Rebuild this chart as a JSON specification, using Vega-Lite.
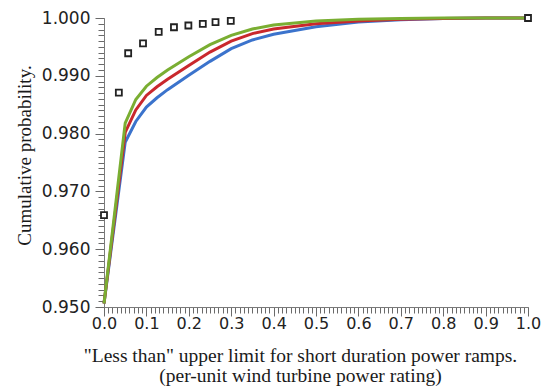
{
  "$schema": "https://vega.github.io/schema/vega-lite/v6.json",
  "width": 424,
  "height": 289,
  "autosize": "none",
  "padding": {"left": 104, "top": 18, "right": 16, "bottom": 85},
  "background": "white",
  "config": {"view": {"stroke": null}},
  "datasets": {
    "curves": [
      {"x": 0, "p": 0.9506, "s": "Series 1"}, {"x": 0.05, "p": 0.9785, "s": "Series 1"}, {"x": 0.075, "p": 0.9821, "s": "Series 1"}, {"x": 0.1, "p": 0.9846, "s": "Series 1"}, {"x": 0.125, "p": 0.9862, "s": "Series 1"}, {"x": 0.15, "p": 0.9876, "s": "Series 1"}, {"x": 0.2, "p": 0.9901, "s": "Series 1"}, {"x": 0.25, "p": 0.9925, "s": "Series 1"}, {"x": 0.3, "p": 0.9947, "s": "Series 1"}, {"x": 0.35, "p": 0.9962, "s": "Series 1"}, {"x": 0.4, "p": 0.9972, "s": "Series 1"}, {"x": 0.5, "p": 0.9985, "s": "Series 1"}, {"x": 0.6, "p": 0.9993, "s": "Series 1"}, {"x": 0.7, "p": 0.9997, "s": "Series 1"}, {"x": 0.8, "p": 0.9999, "s": "Series 1"}, {"x": 0.9, "p": 1.0, "s": "Series 1"}, {"x": 1.0, "p": 1.0, "s": "Series 1"},
      {"x": 0, "p": 0.9506, "s": "Series 2"}, {"x": 0.05, "p": 0.9802, "s": "Series 2"}, {"x": 0.075, "p": 0.9841, "s": "Series 2"}, {"x": 0.1, "p": 0.9866, "s": "Series 2"}, {"x": 0.125, "p": 0.9881, "s": "Series 2"}, {"x": 0.15, "p": 0.9894, "s": "Series 2"}, {"x": 0.2, "p": 0.9918, "s": "Series 2"}, {"x": 0.25, "p": 0.9941, "s": "Series 2"}, {"x": 0.3, "p": 0.996, "s": "Series 2"}, {"x": 0.35, "p": 0.9973, "s": "Series 2"}, {"x": 0.4, "p": 0.9981, "s": "Series 2"}, {"x": 0.5, "p": 0.999, "s": "Series 2"}, {"x": 0.6, "p": 0.9995, "s": "Series 2"}, {"x": 0.7, "p": 0.9998, "s": "Series 2"}, {"x": 0.8, "p": 0.9999, "s": "Series 2"}, {"x": 0.9, "p": 1.0, "s": "Series 2"}, {"x": 1.0, "p": 1.0, "s": "Series 2"},
      {"x": 0, "p": 0.9506, "s": "Series 3"}, {"x": 0.05, "p": 0.9818, "s": "Series 3"}, {"x": 0.075, "p": 0.9859, "s": "Series 3"}, {"x": 0.1, "p": 0.9882, "s": "Series 3"}, {"x": 0.125, "p": 0.9897, "s": "Series 3"}, {"x": 0.15, "p": 0.991, "s": "Series 3"}, {"x": 0.2, "p": 0.9933, "s": "Series 3"}, {"x": 0.25, "p": 0.9954, "s": "Series 3"}, {"x": 0.3, "p": 0.997, "s": "Series 3"}, {"x": 0.35, "p": 0.9981, "s": "Series 3"}, {"x": 0.4, "p": 0.9988, "s": "Series 3"}, {"x": 0.5, "p": 0.9995, "s": "Series 3"}, {"x": 0.6, "p": 0.9998, "s": "Series 3"}, {"x": 0.7, "p": 0.9999, "s": "Series 3"}, {"x": 0.8, "p": 1.0, "s": "Series 3"}, {"x": 0.9, "p": 1.0, "s": "Series 3"}, {"x": 1.0, "p": 1.0, "s": "Series 3"}
    ],
    "observed": [
      {"x": 0.0, "p": 0.9659}, {"x": 0.035, "p": 0.9871}, {"x": 0.057, "p": 0.9939}, {"x": 0.092, "p": 0.9956}, {"x": 0.129, "p": 0.9976}, {"x": 0.165, "p": 0.9984}, {"x": 0.199, "p": 0.9987}, {"x": 0.233, "p": 0.999}, {"x": 0.263, "p": 0.9993}, {"x": 0.299, "p": 0.9995}, {"x": 1.0, "p": 1.0}
    ]
  },
  "resolve": {"scale": {"x": "independent", "y": "independent"}, "axis": {"x": "independent", "y": "independent"}},
  "layer": [
    {
      "data": {"name": "curves"},
      "mark": {"type": "line", "strokeWidth": 3, "clip": false},
      "encoding": {
        "x": {
          "field": "x", "type": "quantitative",
          "scale": {"domain": [0, 1], "nice": false, "zero": false},
          "axis": {
            "orient": "bottom",
            "values": [0,0.01,0.02,0.03,0.04,0.05,0.06,0.07,0.08,0.09,0.1,0.11,0.12,0.13,0.14,0.15,0.16,0.17,0.18,0.19,0.2,0.21,0.22,0.23,0.24,0.25,0.26,0.27,0.28,0.29,0.3,0.31,0.32,0.33,0.34,0.35,0.36,0.37,0.38,0.39,0.4,0.41,0.42,0.43,0.44,0.45,0.46,0.47,0.48,0.49,0.5,0.51,0.52,0.53,0.54,0.55,0.56,0.57,0.58,0.59,0.6,0.61,0.62,0.63,0.64,0.65,0.66,0.67,0.68,0.69,0.7,0.71,0.72,0.73,0.74,0.75,0.76,0.77,0.78,0.79,0.8,0.81,0.82,0.83,0.84,0.85,0.86,0.87,0.88,0.89,0.9,0.91,0.92,0.93,0.94,0.95,0.96,0.97,0.98,0.99,1],
            "tickCount": 500, "labels": false, "title": null, "domain": false, "grid": false, "ticks": true,
            "tickColor": "#6a6a6a", "tickSize": 6, "tickWidth": 1, "tickOpacity": 1
          }
        },
        "y": {
          "field": "p", "type": "quantitative",
          "scale": {"domain": [0.95, 1.0], "nice": false, "zero": false},
          "axis": {
            "orient": "left",
            "values": [0.95,0.951,0.952,0.953,0.954,0.955,0.956,0.957,0.958,0.959,0.96,0.961,0.962,0.963,0.964,0.965,0.966,0.967,0.968,0.969,0.97,0.971,0.972,0.973,0.974,0.975,0.976,0.977,0.978,0.979,0.98,0.981,0.982,0.983,0.984,0.985,0.986,0.987,0.988,0.989,0.99,0.991,0.992,0.993,0.994,0.995,0.996,0.997,0.998,0.999,1],
            "tickCount": 500, "labels": false, "title": null, "domain": false, "grid": false, "ticks": true,
            "tickColor": "#6a6a6a", "tickSize": 6, "tickWidth": 1, "tickOpacity": 1
          }
        },
        "color": {
          "field": "s", "type": "nominal", "legend": null,
          "scale": {"domain": ["Series 1", "Series 2", "Series 3"], "range": ["#3b73cc", "#c9282d", "#7aae32"]}
        },
        "order": {"field": "x", "type": "quantitative"}
      }
    },
    {
      "data": {"name": "observed"},
      "mark": {"type": "point", "shape": "square", "size": 36, "filled": true, "fill": "white", "stroke": "#222", "strokeWidth": 1.8, "opacity": 1, "clip": false},
      "encoding": {
        "x": {
          "field": "x", "type": "quantitative",
          "scale": {"domain": [0, 1], "nice": false, "zero": false},
          "axis": {
            "orient": "bottom",
            "values": [0, 0.1, 0.2, 0.3, 0.4, 0.5, 0.6, 0.7, 0.8, 0.9, 1],
            "tickCount": 50, "format": ".1f",
            "grid": false, "domainColor": "#7a7a7a", "tickColor": "#6a6a6a", "tickSize": 9, "ticks": true,
            "labelOverlap": false, "labelFlush": false, "labelPadding": -1,
            "labelFont": "DejaVu Sans", "labelFontSize": 16, "labelColor": "#222",
            "title": ["\"Less than\" upper limit for short duration power ramps.", "(per-unit wind turbine power rating)"],
            "titleFont": "Liberation Serif", "titleFontSize": 19.5, "titleFontWeight": "normal", "titleColor": "#1a1a1a",
            "titleX": 196, "titleY": 39, "titleBaseline": "top", "titleAlign": "center", "titleAnchor": null, "titleLineHeight": 20
          }
        },
        "y": {
          "field": "p", "type": "quantitative",
          "scale": {"domain": [0.95, 1.0], "nice": false, "zero": false},
          "axis": {
            "orient": "left",
            "values": [0.95, 0.96, 0.97, 0.98, 0.99, 1],
            "tickCount": 50, "format": ".3f",
            "grid": false, "domainColor": "#7a7a7a", "tickColor": "#6a6a6a", "tickSize": 9, "ticks": true,
            "labelOverlap": false, "labelFlush": false, "labelPadding": 5,
            "labelFont": "DejaVu Sans", "labelFontSize": 17, "labelColor": "#222",
            "title": "Cumulative probability.",
            "titleFont": "Liberation Serif", "titleFontSize": 19, "titleFontWeight": "normal", "titleColor": "#1a1a1a",
            "titleX": -80, "titleY": 137, "titleAngle": -90, "titleBaseline": "middle", "titleAlign": "center", "titleAnchor": null
          }
        }
      }
    }
  ]
}
